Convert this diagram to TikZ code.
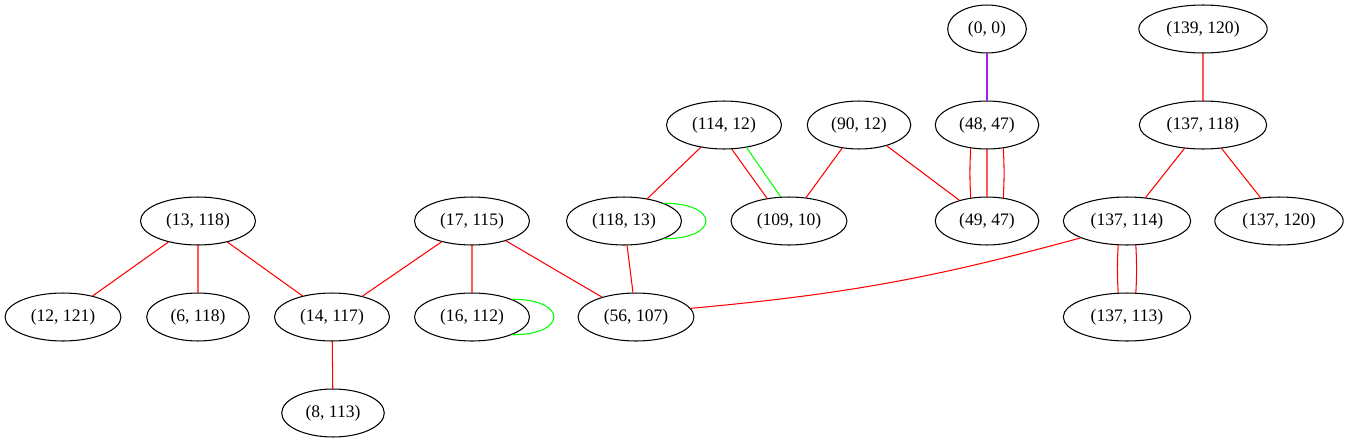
\documentclass[tikz,border=0pt]{standalone}
\usepackage{fontspec}
\setmainfont{Liberation Serif}
\usetikzlibrary{shapes.geometric}
\definecolor{gvpurple}{HTML}{A020F0}
\definecolor{gvgreen}{HTML}{00FF00}
\begin{document}
\begin{tikzpicture}[x=0.02cm,y=-0.02cm,font=\fontsize{10}{12}\selectfont,line join=round,line cap=round,
	vx/.style={draw,ellipse,line width=.6pt,inner xsep=5pt,inner ysep=2pt,minimum height=27.3pt},
	ed/.style={red,line width=.6pt}]
		\useasboundingbox (0,0) rectangle (1349,443);
		\node[vx] (p0x0) at (987,29) {(0, 0)};\node[vx] (p139x120) at (1203,29) {(139, 120)};
		\node[vx] (p114x12) at (724,125) {(114, 12)};\node[vx] (p90x12) at (859,125) {(90, 12)};\node[vx] (p48x47) at (987,125) {(48, 47)};\node[vx] (p137x118) at (1203,125) {(137, 118)};
		\node[vx] (p13x118) at (198,221) {(13, 118)};\node[vx] (p17x115) at (472,221) {(17, 115)};\node[vx] (p118x13) at (624,221) {(118, 13)};\node[vx] (p109x10) at (789,221) {(109, 10)};\node[vx] (p49x47) at (987,221) {(49, 47)};\node[vx] (p137x114) at (1127,221) {(137, 114)};\node[vx] (p137x120) at (1279,221) {(137, 120)};
		\node[vx] (p12x121) at (63,317) {(12, 121)};\node[vx] (p6x118) at (198,317) {(6, 118)};\node[vx] (p14x117) at (332,317) {(14, 117)};\node[vx] (p16x112) at (472,317) {(16, 112)};\node[vx] (p56x107) at (636,317) {(56, 107)};\node[vx] (p137x113) at (1127,317) {(137, 113)};
		\node[vx] (p8x113) at (333,413) {(8, 113)};
		\draw[gvpurple,line width=.6pt] (p0x0)--(p48x47);
		\draw[ed] (p139x120)--(p137x118) (p137x118)--(p137x114) (p137x118)--(p137x120);
		\draw[ed] (p114x12)--(p118x13) (p114x12.-72)--(p109x10.134) (p90x12)--(p109x10) (p90x12)--(p49x47);
		\draw[ed,gvgreen] (p114x12.-45)--(p109x10.109);
		\draw[ed] (p48x47.-125) to[bend right=3] (p49x47.125) (p48x47)--(p49x47) (p48x47.-55) to[bend left=3] (p49x47.55);
		\draw[ed] (p137x114.-110) to[bend right=3] (p137x113.110) (p137x114.-70) to[bend left=3] (p137x113.70);
		\draw[ed] (p137x114.-160) to[bend left=5] (p56x107.9);
		\draw[ed] (p13x118)--(p12x121) (p13x118)--(p6x118) (p13x118)--(p14x117) (p14x117)--(p8x113);
		\draw[ed] (p17x115)--(p14x117) (p17x115)--(p16x112) (p17x115)--(p56x107) (p118x13)--(p56x107);
		\draw[ed,gvgreen] (p118x13.24) .. controls +(56,0) and +(56,0) .. (p118x13.-24);
		\draw[ed,gvgreen] (p16x112.24) .. controls +(56,0) and +(56,0) .. (p16x112.-24);
\end{tikzpicture}
\end{document}
